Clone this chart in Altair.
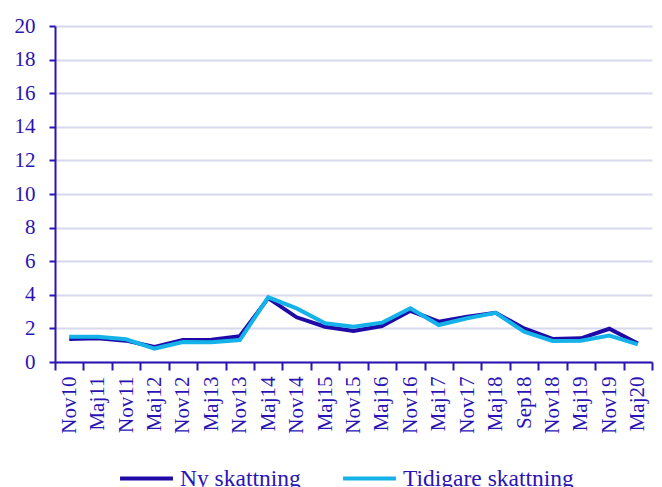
import altair as alt
import pandas as pd

categories = ["Nov10", "Maj11", "Nov11", "Maj12", "Nov12", "Maj13", "Nov13", "Maj14",
              "Nov14", "Maj15", "Nov15", "Maj16", "Nov16", "Maj17", "Nov17", "Maj18",
              "Sep18", "Nov18", "Maj19", "Nov19", "Maj20"]
ny = [1.37, 1.41, 1.27, 0.9, 1.31, 1.33, 1.53, 3.8, 2.66, 2.1, 1.85, 2.14, 3.05, 2.4,
      2.7, 2.93, 2.0, 1.37, 1.41, 1.98, 1.1]
tidigare = [1.5, 1.5, 1.35, 0.8, 1.19, 1.17, 1.31, 3.85, 3.19, 2.3, 2.1, 2.34, 3.2, 2.2,
            2.6, 2.93, 1.8, 1.25, 1.27, 1.57, 1.05]
series = ["Ny skattning", "Tidigare skattning"]

rows = []
for i, c in enumerate(categories):
    rows.append({"cat": c, "serie": series[0], "v": ny[i], "o": 0})
    rows.append({"cat": c, "serie": series[1], "v": tidigare[i], "o": 1})
df = pd.DataFrame(rows)

TXT = "#2a14b4"
FONT = "Liberation Serif"

chart = alt.Chart(df).mark_line(strokeWidth=4).encode(
    x=alt.X("cat:N", sort=categories, title=None,
            scale=alt.Scale(type="band", paddingInner=0, paddingOuter=0),
            axis=alt.Axis(labelAngle=-90, tickBand="extent", labelFontSize=21,
                          labelFont=FONT, labelColor=TXT, domainColor=TXT, tickColor=TXT,
                          tickSize=8, domainWidth=2, tickWidth=2, labelPadding=6, grid=False)),
    y=alt.Y("v:Q", title=None, scale=alt.Scale(domain=[0, 20], nice=False),
            axis=alt.Axis(values=list(range(0, 21, 2)), labelFontSize=21, labelFont=FONT,
                          labelColor=TXT, domainColor=TXT, tickColor=TXT, tickSize=6,
                          domainWidth=2, tickWidth=2, gridColor="#d8d8ee", gridWidth=2,
                          labelPadding=14)),
    color=alt.Color("serie:N", sort=series, title=None,
                    scale=alt.Scale(domain=series, range=["#1f0aa8", "#15b2ea"]),
                    legend=alt.Legend(orient="none", legendX=63, legendY=424,
                                      direction="horizontal", symbolType="stroke",
                                      symbolStrokeWidth=4, symbolSize=2800, labelFontSize=23.5,
                                      labelFont=FONT, labelColor=TXT, columnPadding=34,
                                      labelOffset=5, labelLimit=400)),
    order="o:Q",
).properties(width=597, height=336,
             autosize=alt.AutoSizeParams(type="none"),
             padding={"left": 47, "top": 18, "right": 2, "bottom": 150}
).configure_view(stroke=None)

chart.save("out.html", embed_options={"renderer": "svg", "actions": False})
